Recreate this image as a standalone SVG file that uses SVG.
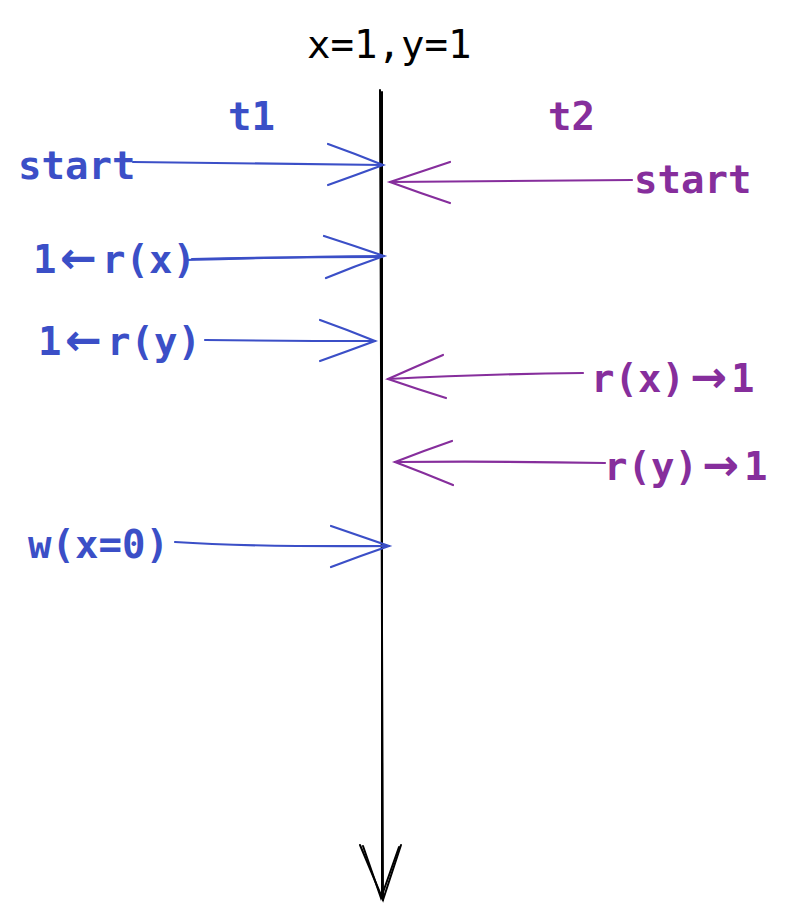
<svg xmlns="http://www.w3.org/2000/svg" width="792" height="922" viewBox="0 0 792 922">
<style>
.t{font-family:"DejaVu Sans Mono","Liberation Mono",monospace;font-size:39px;font-weight:bold}
.ar{font-family:"DejaVu Sans","Liberation Sans",sans-serif;font-size:44px;font-weight:bold}
.k{fill:#000000;font-weight:normal}
.b{fill:#3b4fc7}
.p{fill:#862e9c}
.lk{fill:none;stroke:#000;stroke-width:2;stroke-linecap:round}
.lb{fill:none;stroke:#3b4fc7;stroke-width:2.2;stroke-linecap:round}
.lp{fill:none;stroke:#862e9c;stroke-width:2.2;stroke-linecap:round}
</style>
<rect width="792" height="922" fill="#ffffff"/>
<g id="title"><text class="t k" x="307" y="58">x=1,y=1</text></g>
<g id="t1"><text class="t b" x="228" y="130">t1</text></g>
<g id="t2"><text class="t p" x="548" y="130">t2</text></g>
<g id="t1-start"><text class="t b" x="18" y="179">start</text></g>
<g id="t1-rx"><text class="t b" x="33" y="273">1<tspan class="ar" x="60">←</tspan><tspan x="102">r(x)</tspan></text></g>
<g id="t1-ry"><text class="t b" x="38" y="355">1<tspan class="ar" x="65">←</tspan><tspan x="107">r(y)</tspan></text></g>
<g id="t1-w"><text class="t b" x="28" y="558">w(x=0)</text></g>
<g id="t2-start"><text class="t p" x="634" y="193">start</text></g>
<g id="t2-rx"><text class="t p" x="591" y="392">r(x)<tspan class="ar" x="690">→</tspan><tspan x="731">1</tspan></text></g>
<g id="t2-ry"><text class="t p" x="604" y="480">r(y)<tspan class="ar" x="702">→</tspan><tspan x="744">1</tspan></text></g>
<g id="connectors">
  <g id="timeline">
    <path class="lk" d="M380,90 Q381,500 383,900"/>
    <path class="lk" stroke-width="1" d="M382,92 Q383,520 382,898"/>
    <path class="lk" d="M360,845 L383,900 L401,845"/>
    <path class="lk" stroke-width="1" d="M363,846 L381,898 L399,847"/>
  </g>
  <g id="a1">
    <path class="lb" d="M133,162 Q260,164 383,165"/>
    <path class="lb" d="M328,144 Q356,154 383,165 Q356,175 328,185"/>
  </g>
  <g id="a2">
    <path class="lb" d="M185,260 Q280,257 384,256"/>
    <path class="lb" stroke-width="1" d="M192,259 Q290,257 382,257"/>
    <path class="lb" d="M324,236 Q355,246 384,256 Q355,266 326,278"/>
  </g>
  <g id="a3">
    <path class="lb" d="M205,340 Q290,341 375,341"/>
    <path class="lb" d="M320,320 Q348,330 375,341 Q348,351 320,361"/>
  </g>
  <g id="a4">
    <path class="lb" d="M175,542 Q250,547 389,546"/>
    <path class="lb" d="M331,526 Q360,536 389,546 Q360,556 331,567"/>
  </g>
  <g id="a5">
    <path class="lp" d="M632,180 Q510,181 390,182"/>
    <path class="lp" d="M450,162 Q420,172 390,182 Q420,193 450,203"/>
  </g>
  <g id="a6">
    <path class="lp" d="M583,373 Q480,374 388,379"/>
    <path class="lp" d="M443,355 Q415,367 388,379 Q417,389 446,398"/>
  </g>
  <g id="a7">
    <path class="lp" d="M605,463 Q500,461 395,462"/>
    <path class="lp" d="M452,441 Q423,451 395,462 Q424,473 453,485"/>
  </g>
</g>
</svg>
